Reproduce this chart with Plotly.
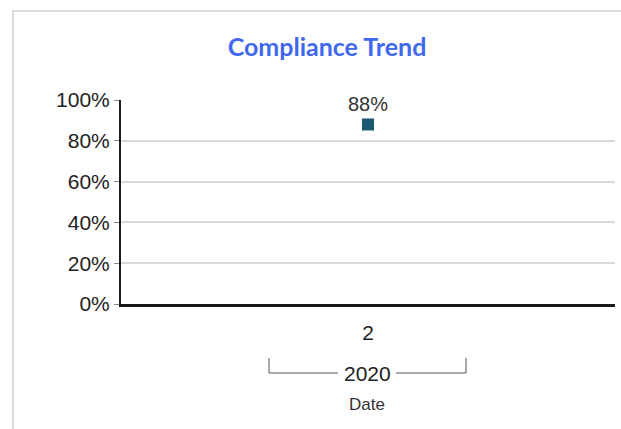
import plotly.graph_objects as go

# Data
categories = ["2"]
group_label = "2020"
compliance = [0.88]
y_ticks = [0, 0.2, 0.4, 0.6, 0.8, 1.0]
y_tick_labels = ["0%", "20%", "40%", "60%", "80%", "100%"]

W, H = 621, 429
L, R, T, B = 121, 6, 100, 125
pw, ph = W - L - R, H - T - B

def px(x):
    return (x - L) / pw

def py(y):
    return (H - B - y) / ph

TICKFONT = dict(family="Liberation Sans, Arial", size=21, color="#222222")

fig = go.Figure()
fig.add_trace(go.Scatter(
    x=categories, y=compliance, mode="markers+text",
    marker=dict(symbol="square", size=12, color="#18596f"),
    text=[f"{v:.0%}" for v in compliance], textposition="top center",
    textfont=dict(family="Liberation Sans, Arial", size=20, color="#333333"),
    cliponaxis=False, showlegend=False,
))

fig.update_layout(
    width=W, height=H,
    margin=dict(l=L, r=R, t=T, b=B),
    paper_bgcolor="white", plot_bgcolor="white",
    title=dict(text="<b>Compliance Trend</b>", xref="container", x=327 / W, xanchor="center",
               yref="container", y=1 - 47 / H, yanchor="middle",
               font=dict(family="Lato, Open Sans", size=25, color="#3f68ee")),
    xaxis=dict(type="category", range=[-0.5, 0.5], showgrid=False,
               showline=True, linecolor="#1a1a1a", linewidth=3,
               ticks="", ticklabelstandoff=8, tickfont=TICKFONT,
               zeroline=False, fixedrange=True),
    yaxis=dict(range=[0, 1.0], tickvals=y_ticks, ticktext=y_tick_labels,
               showgrid=True, gridcolor="#d9d9d9", gridwidth=2,
               showline=True, linecolor="#1a1a1a", linewidth=2,
               ticks="outside", ticklen=5, tickcolor="#888888",
               tickfont=TICKFONT,
               zeroline=False, fixedrange=True),
    font=dict(family="Liberation Sans, Arial"),
)

shapes = []
# outer frame
shapes.append(dict(type="rect", xref="paper", yref="paper",
                   x0=px(13), x1=px(630), y0=py(440), y1=py(11),
                   line=dict(color="#d0d0d0", width=1.5), layer="below"))
# group bracket
by = py(373)
bline = dict(color="#555555", width=1)
shapes.append(dict(type="line", xref="paper", yref="paper", x0=px(269), x1=px(338), y0=by, y1=by, line=bline))
shapes.append(dict(type="line", xref="paper", yref="paper", x0=px(396), x1=px(466), y0=by, y1=by, line=bline))
shapes.append(dict(type="line", xref="paper", yref="paper", x0=px(269), x1=px(269), y0=by, y1=py(358), line=bline))
shapes.append(dict(type="line", xref="paper", yref="paper", x0=px(466), x1=px(466), y0=by, y1=py(358), line=bline))
fig.update_layout(shapes=shapes)

fig.add_annotation(xref="paper", yref="paper", x=px(367), y=by, text=group_label,
                   showarrow=False, xanchor="center", yanchor="middle", font=TICKFONT)
fig.add_annotation(xref="paper", yref="paper", x=px(367), y=py(404), text="Date",
                   showarrow=False, xanchor="center", yanchor="middle",
                   font=dict(family="Liberation Sans, Arial", size=17, color="#333333"))

fig.write_html("out.html", config={"displayModeBar": False},
               post_script="document.body.style.margin='0';document.body.style.overflow='hidden';")
